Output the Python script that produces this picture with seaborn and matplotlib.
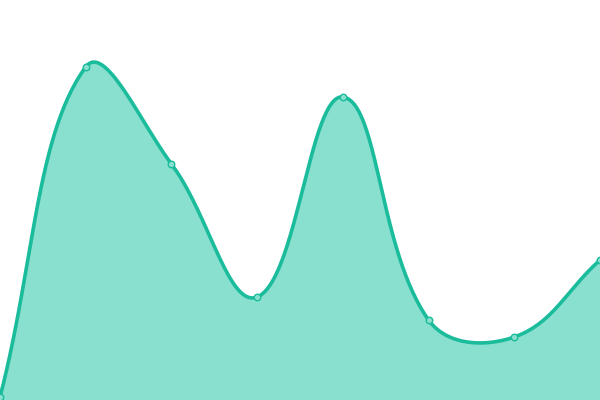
import numpy as np
import pandas as pd
import matplotlib
matplotlib.use("Agg")
import matplotlib.pyplot as plt
import seaborn as sns

# Data
labels = ["P1", "P2", "P3", "P4", "P5", "P6", "P7", "P8"]
values = [3, 333, 236, 103, 303, 80, 63, 140]

LINE = "#1abc9c"
FILL = "#8ae0cf"
W, H = 600, 400
TENSION = 0.4

sns.set_theme(style="white")
fig = plt.figure(figsize=(6, 4), dpi=100)
ax = fig.add_axes([0, 0, 1, 1])

n = len(values)
xs = np.linspace(0, W, n)
ys = np.array(values, dtype=float)

# Chart.js-like smooth bezier (tension) for the drawn curve
cps = []
for i in range(n):
    prev = np.array([xs[max(i - 1, 0)], ys[max(i - 1, 0)]])
    cur = np.array([xs[i], ys[i]])
    nxt = np.array([xs[min(i + 1, n - 1)], ys[min(i + 1, n - 1)]])
    d01 = np.hypot(*(cur - prev))
    d12 = np.hypot(*(nxt - cur))
    tot = d01 + d12
    s01 = d01 / tot if tot else 0
    s12 = d12 / tot if tot else 0
    fa = TENSION * s01
    fb = TENSION * s12
    cp_prev = cur - fa * (nxt - prev)
    cp_next = cur + fb * (nxt - prev)
    cp_prev[1] = np.clip(cp_prev[1], 0, H)
    cp_next[1] = np.clip(cp_next[1], 0, H)
    cps.append((cp_prev, cp_next))

cx, cy = [], []
t = np.linspace(0, 1, 60)
for i in range(n - 1):
    p0 = np.array([xs[i], ys[i]])
    p3 = np.array([xs[i + 1], ys[i + 1]])
    p1 = cps[i][1]
    p2 = cps[i + 1][0]
    b = ((1 - t) ** 3)[:, None] * p0 + (3 * (1 - t) ** 2 * t)[:, None] * p1 \
        + (3 * (1 - t) * t ** 2)[:, None] * p2 + (t ** 3)[:, None] * p3
    cx.extend(b[:, 0]); cy.extend(b[:, 1])

curve = pd.DataFrame({"x": cx, "y": cy})
ax.fill_between(curve["x"], 0, curve["y"], color=FILL, linewidth=0, zorder=1)
sns.lineplot(data=curve, x="x", y="y", sort=False, color=LINE, linewidth=2.6,
             ax=ax, zorder=2)

pts = pd.DataFrame({"x": xs, "y": ys, "label": labels})
sns.scatterplot(data=pts, x="x", y="y", s=22, color=FILL, edgecolor=LINE,
                linewidth=1.0, ax=ax, zorder=3)

ax.set_xlim(0, W)
ax.set_ylim(0, H)
ax.axis("off")
fig.savefig("out.png", dpi=100)
